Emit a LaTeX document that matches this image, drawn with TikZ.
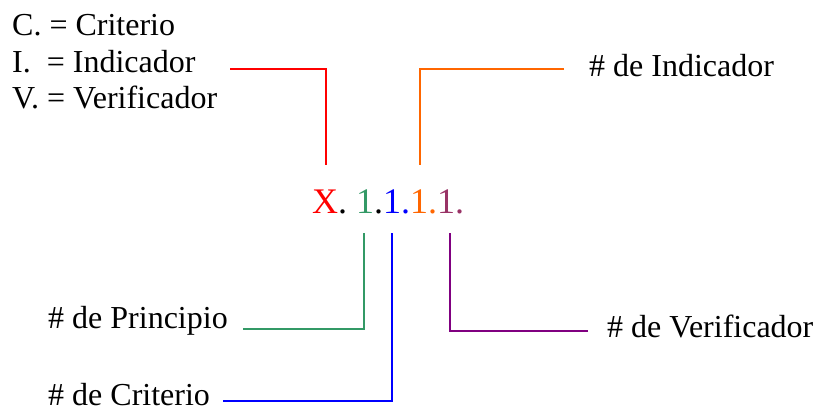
\documentclass[tikz,border=0pt]{standalone}
\usepackage{fontspec}
\setmainfont{Liberation Serif}
\definecolor{cgreen}{HTML}{339966}
\definecolor{corange}{HTML}{FF6600}
\definecolor{cplum}{HTML}{993366}
\definecolor{cpurple}{HTML}{800080}
\begin{document}
\begin{tikzpicture}[x=1pt,y=-1pt,
  txt/.style={inner sep=0pt,anchor=base west,font=\fontsize{32}{38}\selectfont},
  code/.style={inner sep=0pt,anchor=base west,font=\fontsize{36}{42}\selectfont},
  link/.style={line width=2pt}]
\useasboundingbox (0,0) rectangle (818,406);

% legend
\node[txt] (legC) at (12,36)    {C. = Criterio};
\node[txt] (legI) at (12,72.5)  {I.\ \ = Indicador};
\node[txt] (legV) at (12,108.5) {V. = Verificador};

% the code
\node[code] (code) at (312,213) {\textcolor{red}{X}. \textcolor{cgreen}{1}.\textcolor{blue}{1.}\textcolor{corange}{1.}\textcolor{cplum}{1.}};

% labels
\node[txt] (lInd)  at (589,77)  {\# de Indicador};
\node[txt] (lPrin) at (48,328)  {\# de Principio};
\node[txt] (lVer)  at (607,337) {\# de Verificador};
\node[txt] (lCrit) at (48,405)  {\# de Criterio};

% connector ends
\coordinate (rS) at (230,69);   \coordinate (rE) at (326,165);
\coordinate (oS) at (564,69);   \coordinate (oE) at (420,165);
\coordinate (gS) at (243,329);  \coordinate (gE) at (364,233);
\coordinate (bS) at (223,401);  \coordinate (bE) at (392,233);
\coordinate (pS) at (588,331);  \coordinate (pE) at (450,233);

% connectors
\draw[link,red]     (rS) -| (rE);
\draw[link,corange] (oS) -| (oE);
\draw[link,cgreen]  (gS) -| (gE);
\draw[link,blue]    (bS) -| (bE);
\draw[link,cpurple] (pS) -| (pE);
\end{tikzpicture}
\end{document}
